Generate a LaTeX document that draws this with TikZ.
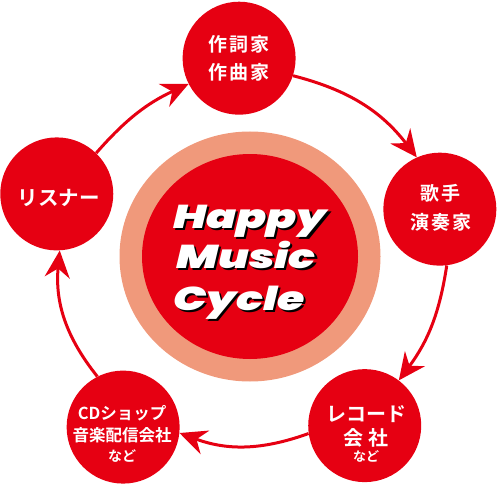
\documentclass[tikz,border=0pt]{standalone}
\usepackage{fontspec}
\usetikzlibrary{arrows.meta}
\newfontfamily\jpfont{Noto Sans CJK JP Bold}
\newfontfamily\jpwide{Noto Sans CJK JP Bold}[LetterSpace=12]
\newfontfamily\hmcfont{Poppins Black Italic}[FakeStretch=1.34]
\definecolor{hmcred}{HTML}{E60012}
\definecolor{hmcring}{HTML}{F0997B}
\begin{document}
\begin{tikzpicture}[x=1pt, y=1pt,
    stn/.style={circle, fill=hmcred, minimum size=113pt, inner sep=0pt},
    jptxt/.style={text=white, align=center, inner sep=0pt},
    ttl/.style={font=\hmcfont\fontsize{33}{40}\selectfont, text=white, anchor=base, inner sep=0pt},
    cyc/.style={color=hmcred, line width=3pt, -{Stealth[length=27pt, width=25pt, inset=9pt]}}]
  \useasboundingbox (0,0) rectangle (498,483);
  % centre disc
  \fill[hmcring] (250,226.5) ellipse [x radius=130.5, y radius=125];
  \fill[hmcred] (250,226.5) ellipse [x radius=108, y radius=102.5];
  \foreach \w/\x/\y in {Happy/250/255, Music/246/215, Cycle/239/173} {
    \node[ttl, text=black] (\w-sh) at (\x+2.2, \y-2.2) {\w};
    \node[ttl] (\w) at (\x, \y) {\w};
  }
  % stations
  \begin{scope}[shift={(248,221)}]
    \draw
      (92.5:204) node[stn] (saku){}
      (15.4:199) node[stn] (kashu){}
      (-54.5:201) node[stn] (rec){}
      (-127.1:207) node[stn] (shop){}
      (160.4:203) node[stn] (lis){};
  \end{scope}
  \node[jptxt, font=\jpwide\fontsize{19}{28}\selectfont] (sakuTxt) at (saku) {作詞家\\作曲家};
  \node[jptxt, font=\jpwide\fontsize{19}{29}\selectfont] (kashuTxt) at ([xshift=1pt, yshift=1.5pt]kashu.center) {歌手\\演奏家};
  \node[jptxt, font=\jpfont\fontsize{20}{23.3}\selectfont] (recTxt) at ([xshift=1.5pt, yshift=-8.5pt]rec.center)
    {レコード\\会 社\\[-7pt]{\fontsize{13}{15}\selectfont など}};
  \node[jptxt, font=\jpfont\fontsize{16.5}{22}\selectfont] (shopTxt) at ([xshift=-1pt, yshift=-7pt]shop.center)
    {CDショップ\\音楽配信会社\\[-2pt]{\fontsize{14}{16}\selectfont など}};
  \node[jptxt, font=\jpfont\fontsize{20.5}{24}\selectfont] (lisTxt) at ([xshift=2pt, yshift=-4.5pt]lis.center) {リスナー};
  % cycle arrows
  \begin{scope}[cyc]
    \draw (lis.46) to[bend left=12] (saku.207);
    \draw (saku.-18) to[bend left=19] (kashu.114);
    \draw (kashu.-83) to[bend left=14] (rec.53);
    \draw (rec.188) to[bend left=20] (shop.-6);
    \draw (shop.117) to[bend left=22] (lis.-87);
  \end{scope}
\end{tikzpicture}
\end{document}
